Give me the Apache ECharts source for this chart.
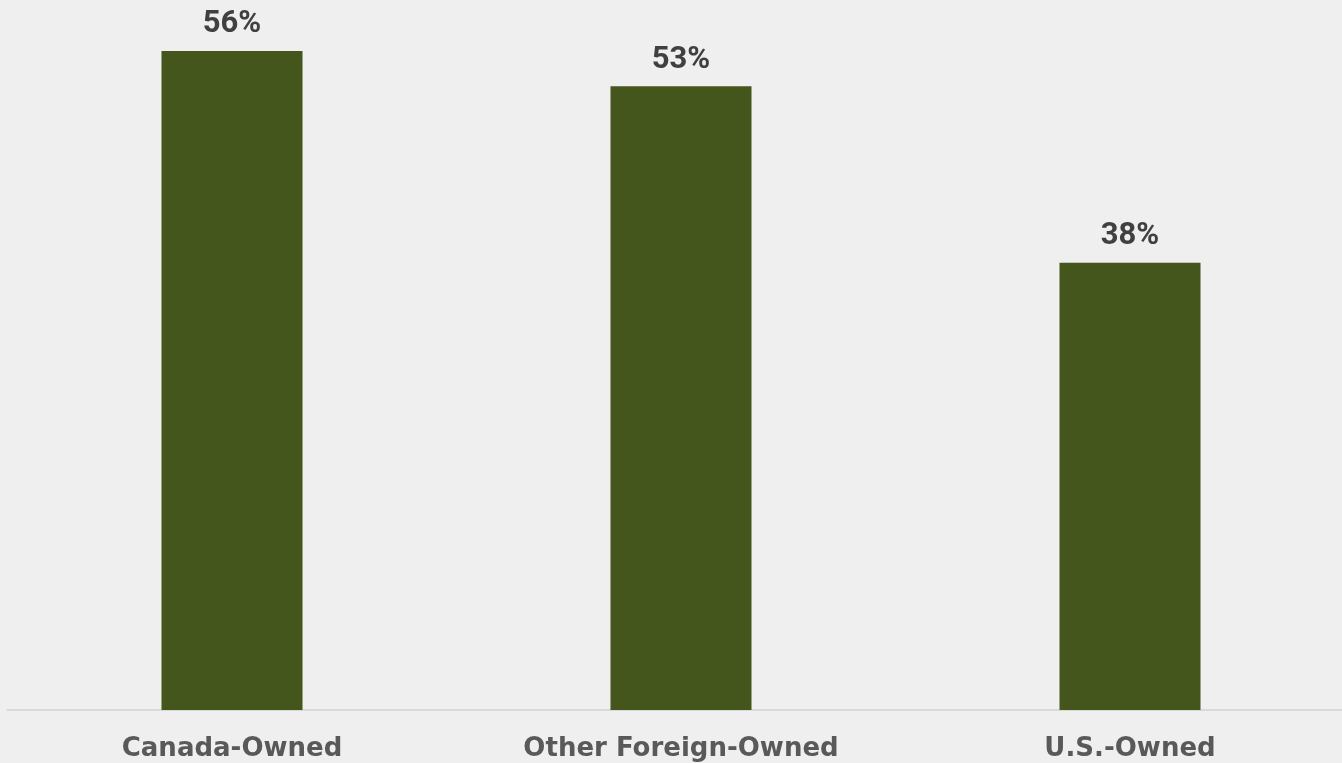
<!DOCTYPE html>
<html>
<head>
<meta charset="utf-8">
<script src="https://cdn.jsdelivr.net/npm/echarts@6/dist/echarts.min.js"></script>
<style>
html,body{margin:0;padding:0;background:#efefef;}
#c{width:1342px;height:763px;}
</style>
</head>
<body>
<div id="c"></div>
<script>
const categories = ["Canada-Owned", "Other Foreign-Owned", "U.S.-Owned"];
const values = [56, 53, 38];

const chart = echarts.init(document.getElementById('c'));
chart.setOption({
  backgroundColor: '#efefef',
  animation: false,
  grid: { left: 7.5, right: -12.5, top: 4, bottom: 53, containLabel: false, outerBoundsMode: 'none' },
  xAxis: {
    type: 'category',
    data: categories,
    axisLine: { show: true, lineStyle: { color: '#d9d9d9', width: 2 } },
    axisTick: { show: false },
    axisLabel: {
      color: '#595959', fontSize: 26, fontWeight: 'bold',
      fontFamily: '"DejaVu Sans", sans-serif', margin: 26
    }
  },
  yAxis: {
    type: 'value', min: 0, max: 60,
    show: false, splitLine: { show: false }
  },
  series: [{
    type: 'bar',
    data: values,
    barWidth: 141,
    itemStyle: { color: '#44561c' },
    label: {
      show: true, position: 'top', distance: 11,
      formatter: '{c}%',
      color: '#404040', fontSize: 31, fontWeight: 'bold',
      fontFamily: 'Roboto, sans-serif'
    }
  }]
});
</script>
</body>
</html>
